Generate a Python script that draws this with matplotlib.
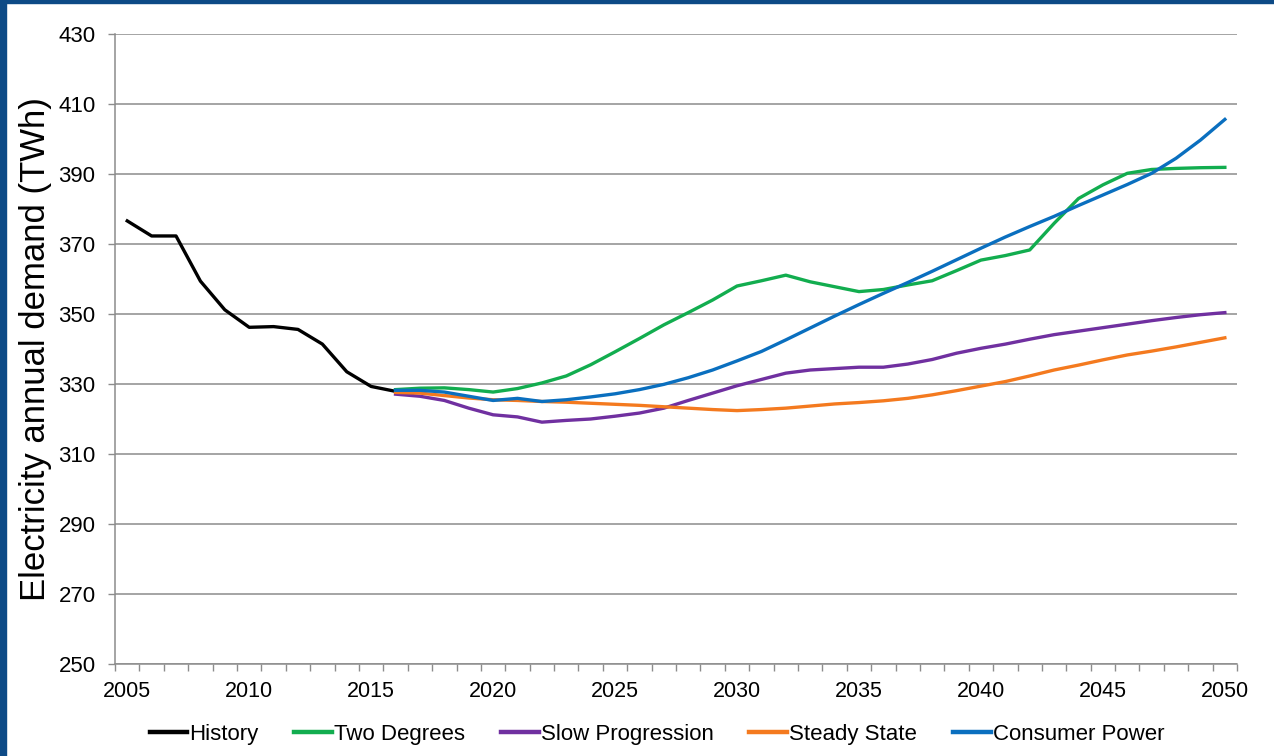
import numpy as np
import matplotlib
matplotlib.use("Agg")
import matplotlib.pyplot as plt
from matplotlib.patches import Rectangle

plt.rcParams["font.family"] = ["Liberation Sans", "DejaVu Sans"]

# ── data ──────────────────────────────────────────────────────────────────────
hist_years = list(range(2005, 2017))
history = [376.6, 372.3, 372.3, 359.4, 351.2, 346.2, 346.4, 345.6, 341.4, 333.5,
           329.3, 327.9]

scen_years = list(range(2016, 2051))
two_degrees = [328.4, 328.8, 328.9, 328.4, 327.7, 328.7, 330.3, 332.3, 335.5, 339.2,
               343.0, 346.9, 350.4, 354.0, 358.0, 359.5, 361.1, 359.2, 357.8, 356.4,
               357.0, 358.3, 359.5, 362.4, 365.4, 366.7, 368.3, 375.9, 383.0, 386.9,
               390.2, 391.3, 391.6, 391.8, 391.9]
slow_progression = [327.1, 326.5, 325.3, 323.1, 321.2, 320.6, 319.1, 319.6, 320.0, 320.8,
                    321.7, 323.1, 325.3, 327.4, 329.5, 331.3, 333.1, 334.0, 334.4, 334.8,
                    334.8, 335.7, 337.0, 338.8, 340.2, 341.4, 342.8, 344.1, 345.1, 346.1,
                    347.1, 348.1, 349.0, 349.8, 350.4]
steady_state = [327.6, 327.4, 326.7, 326.0, 325.5, 325.3, 325.0, 324.8, 324.5, 324.2,
                323.9, 323.5, 323.1, 322.7, 322.4, 322.7, 323.1, 323.7, 324.3, 324.7,
                325.2, 325.9, 326.9, 328.1, 329.4, 330.7, 332.3, 334.0, 335.4, 336.9,
                338.3, 339.4, 340.6, 341.9, 343.2]
consumer_power = [328.2, 328.2, 327.7, 326.5, 325.3, 325.9, 325.0, 325.5, 326.3, 327.2,
                  328.4, 329.9, 331.8, 334.0, 336.6, 339.3, 342.6, 346.0, 349.4, 352.7,
                  355.9, 359.0, 362.2, 365.5, 368.8, 372.0, 375.0, 377.9, 381.0, 384.0,
                  387.0, 390.2, 394.5, 399.7, 405.6]

series = [
    ("History",          hist_years, history,          "black"),
    ("Two Degrees",      scen_years, two_degrees,      "#12ad4f"),
    ("Slow Progression", scen_years, slow_progression, "#7030a0"),
    ("Steady State",     scen_years, steady_state,     "#f47a1f"),
    ("Consumer Power",   scen_years, consumer_power,   "#0a6fbf"),
]

x_labels = list(range(2005, 2051, 5))
y_ticks = list(range(250, 431, 20))

# ── plot ──────────────────────────────────────────────────────────────────────
fig = plt.figure(figsize=(12.74, 7.56), dpi=100)
ax = fig.add_axes([0.0903, 0.1217, 0.8807, 0.8333])

for label, xs, ys, col in series:
    ax.plot(xs, ys, color=col, lw=2.4, label=label, solid_joinstyle="round")

ax.set_xlim(2004.5, 2050.5)
ax.set_ylim(250, 430)
ax.set_yticks(y_ticks)
ax.set_xticks(x_labels)
ax.set_xticks(np.arange(2004.5, 2051, 1), minor=True)
ax.tick_params(axis="x", which="major", length=0, labelsize=15.5, pad=12)
ax.tick_params(axis="x", which="minor", length=5, color="#8c8c8c", width=1)
ax.tick_params(axis="y", length=5, color="#8c8c8c", width=1, labelsize=16, pad=9)

ax.grid(True, axis="y", color="#8c8c8c", lw=1.1)
ax.set_axisbelow(True)
for s in ["top", "right"]:
    ax.spines[s].set_visible(False)
for s in ["left", "bottom"]:
    ax.spines[s].set_color("#8c8c8c")
    ax.spines[s].set_linewidth(1.1)

ax.set_ylabel("Electricity annual demand (TWh)", fontsize=25)
ax.yaxis.set_label_coords(-0.056, 0.5)

leg = ax.legend(loc="center", bbox_to_anchor=(0.483, -0.112), ncol=5, frameon=False,
                fontsize=16, handlelength=1.7, handletextpad=0.1, columnspacing=1.6)
for h in leg.get_lines():
    h.set_linewidth(3.2)

# dark blue frame on left and top edges
fig.patches.append(Rectangle((0, 0), 6 / 1274, 1, transform=fig.transFigure,
                             color="#0d4a86", zorder=10))
fig.patches.append(Rectangle((0, 1 - 3 / 756), 1, 3 / 756, transform=fig.transFigure,
                             color="#0d4a86", zorder=10))

plt.savefig("out.png", dpi=100)
